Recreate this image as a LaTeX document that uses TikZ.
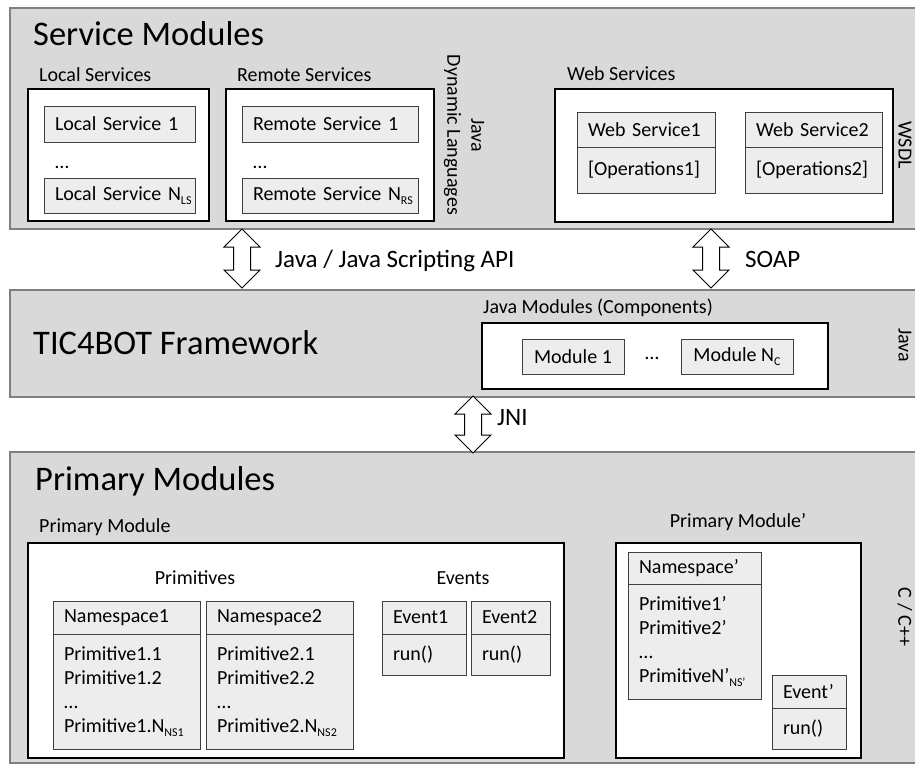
\documentclass[tikz,border=0pt]{standalone}
\usepackage{fontspec}
\setmainfont{Carlito}
\usepackage{xcolor}
\usepackage{tikz}
\usetikzlibrary{positioning, shapes.arrows}
\definecolor{panelgray}{HTML}{D9D9D9}
\definecolor{paneledge}{HTML}{808080}
\definecolor{itemgray}{HTML}{EDEDED}
\definecolor{itemedge}{HTML}{404040}
\newcommand{\smalltxt}{\fontsize{20}{24}\selectfont}
\newcommand{\midtxt}{\fontsize{25}{30}\selectfont}
\newcommand{\bigtxt}{\fontsize{34.5}{41}\selectfont}
\newcommand{\lowidx}[1]{\raisebox{-3.5pt}{\fontsize{12}{12}\selectfont #1}}

\tikzset{
  panel/.style={draw=paneledge, fill=panelgray, line width=2.5pt, anchor=north west,
                inner sep=0pt, outer sep=0pt, minimum width=930pt},
  holder/.style 2 args={draw=black, fill=white, line width=1.5pt, anchor=north west,
                inner sep=0pt, outer sep=0pt, minimum width=#1pt, minimum height=#2pt},
  itembox/.style 2 args={draw=itemedge, fill=itemgray, line width=1pt, anchor=north west,
                outer sep=0pt, inner xsep=11pt, inner ysep=0pt, align=left, font=\smalltxt,
                text width=#1pt-22pt, minimum height=#2pt},
  modbox/.style 2 args={draw=itemedge, fill=itemgray, line width=1pt, anchor=north west,
                outer sep=0pt, inner sep=0pt, font=\smalltxt,
                minimum width=#1pt, minimum height=#2pt},
  title/.style={font=\bigtxt, inner sep=0pt, anchor=base west},
  label/.style={font=\smalltxt, inner sep=0pt, anchor=base west},
  linktxt/.style={font=\midtxt, inner sep=0pt, anchor=base west},
  sidetxt/.style={font=\smalltxt, inner sep=0pt, rotate=-90, align=center},
  iface/.style={draw=black, fill=white, line width=1pt, shape=double arrow, rotate=90,
                double arrow head extend=9.5pt, inner xsep=0pt, inner ysep=8pt,
                minimum width=0pt, minimum height=#1pt},
}

\begin{document}
\begin{tikzpicture}[x=1pt, y=-1pt]
  \useasboundingbox (0,0) rectangle (915,766);
  \clip (0,0) rectangle (915,766);

  % layers
  \node[panel, minimum height=221pt] (service) at (10,8) {};
  \node[panel, minimum height=107pt] (frame) at (10,290) {};
  \node[panel, minimum height=311pt] (primary) at (10,452) {};

  % service modules
  \node[title] (svctitle) at (33,45) {Service Modules};

  \node[label] (locallbl) at (39,81) {Local Services};
  \node[holder={181}{132}] (local) at (28,89) {};
  \node[itembox={151}{36}] (ls1) at (44,106) {Local Service 1};
  \node[label] (lsdots) at (55,168) {…};
  \node[itembox={151}{35}] (lsn) at (44,178) {\mbox{Local Service N\lowidx{LS}}};

  \node[label] (remotelbl) at (237,81) {Remote Services};
  \node[holder={208}{132}] (remote) at (226,89) {};
  \node[itembox={176}{36}] (rs1) at (242,106) {Remote Service 1};
  \node[label] (rsdots) at (253,168) {…};
  \node[itembox={176}{35}] (rsn) at (242,178) {\mbox{Remote Service N\lowidx{RS}}};

  \node[sidetxt] (langs) at (464,135) {Java\\Dynamic Languages};

  \node[label] (weblbl) at (567,80) {Web Services};
  \node[holder={338}{133}] (web) at (555,89) {};
  \node[itembox={138}{35}] (ws1) at (577,112) {Web Service1};
  \node[itembox={138}{46}, below=0pt of ws1] (ws1ops) {[Operations1]};
  \node[itembox={137}{35}] (ws2) at (745,112) {Web Service2};
  \node[itembox={137}{46}, below=0pt of ws2] (ws2ops) {[Operations2]};

  \node[sidetxt] (wsdl) at (905,145) {WSDL};

  % links between layers
  \node[iface=59] (api) at (242,258.5) {};
  \node[linktxt] (apilbl) at (275,267) {Java / Java Scripting API};
  \node[iface=59] (soap) at (711,258.5) {};
  \node[linktxt] (soaplbl) at (745,267) {SOAP};

  % framework
  \node[title] (fwtitle) at (33,354) {TIC4BOT Framework};
  \node[label] (jmlbl) at (483,313) {Java Modules (Components)};
  \node[holder={346}{66}] (jmods) at (482,323) {};
  \node[modbox={102}{35}] (mod1) at (522,339) {Module 1};
  \node[label, anchor=base] (moddots) at (652,359) {…};
  \node[modbox={112}{35}] (modn) at (681,339) {Module N\lowidx{C}};
  \node[sidetxt] (fwjava) at (905,345) {Java};

  \node[iface=57] (jni) at (473,424.5) {};
  \node[linktxt] (jnilbl) at (497,425) {JNI};

  % primary modules
  \node[title] (primtitle) at (35,490) {Primary Modules};

  \node[label] (pmlbl) at (39,532) {Primary Module};
  \node[holder={536}{215}] (pm) at (28,543) {};
  \node[label, anchor=base] (primlbl) at (195,584) {Primitives};
  \node[itembox={147}{33}] (ns1) at (53,601) {Namespace1};
  \node[itembox={147}{115}, below=0pt of ns1] (ns1list)
    {Primitive1.1\\Primitive1.2\\…\\Primitive1.N\lowidx{NS1}};
  \node[itembox={147}{33}] (ns2) at (206,601) {Namespace2};
  \node[itembox={147}{115}, below=0pt of ns2] (ns2list)
    {Primitive2.1\\Primitive2.2\\…\\Primitive2.N\lowidx{NS2}};

  \node[label, anchor=base] (evlbl) at (463,584) {Events};
  \node[itembox={84}{33}] (ev1) at (382,601) {Event1};
  \node[itembox={84}{41}, below=0pt of ev1] (ev1run) {run()};
  \node[itembox={79}{33}] (ev2) at (471,601) {Event2};
  \node[itembox={79}{41}, below=0pt of ev2] (ev2run) {run()};

  \node[label, anchor=base] (pm2lbl) at (738,527) {Primary Module’};
  \node[holder={245}{215}] (pm2) at (616,543) {};
  \node[itembox={133}{32}] (nsp) at (628,552) {Namespace’};
  \node[itembox={133}{115}, below=0pt of nsp] (nsplist)
    {Primitive1’\\Primitive2’\\…\\PrimitiveN’\lowidx{NS’}};
  \node[itembox={74}{33}] (evp) at (772,675) {Event’};
  \node[itembox={74}{41}, below=0pt of evp] (evprun) {run()};

  \node[sidetxt] (cpp) at (905,617) {C / C++};
\end{tikzpicture}
\end{document}
